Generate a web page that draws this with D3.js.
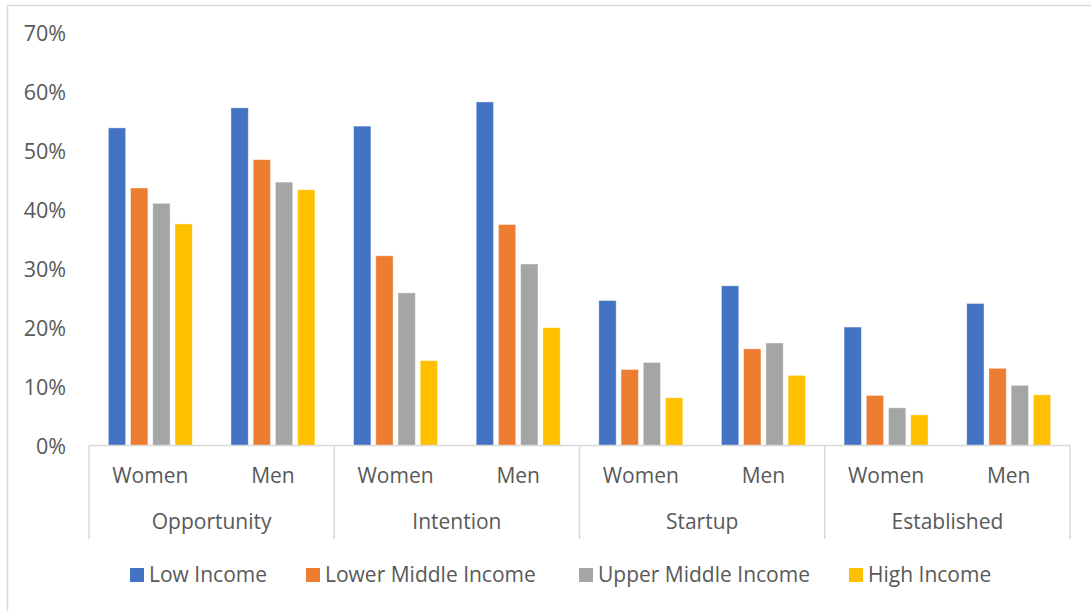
<!DOCTYPE html>
<html><head><meta charset="utf-8">
<script src="https://cdn.jsdelivr.net/npm/d3@7"></script>
<style>body{margin:0;background:#fff}svg{display:block}text{font-family:"Open Sans","Noto Sans",sans-serif;fill:#595959}</style>
</head><body>
<svg id="c" width="1091" height="611"></svg>
<script>
const groups = ["Opportunity","Intention","Startup","Established"];
const genders = ["Women","Men"];
const series = ["Low Income","Lower Middle Income","Upper Middle Income","High Income"];
const colors = ["#4472C4","#ED7D31","#A5A5A5","#FFC000"];
const lowIncome         = [53.9,57.3,54.2,58.3,24.6,27.1,20.1,24.1];
const lowerMiddleIncome = [43.7,48.5,32.2,37.5,12.9,16.4, 8.5,13.1];
const upperMiddleIncome = [41.1,44.7,25.9,30.8,14.1,17.4, 6.4,10.2];
const highIncome        = [37.6,43.4,14.4,20.0, 8.1,11.9, 5.2, 8.6];
const yTicks = [0,10,20,30,40,50,60,70];

const values = [lowIncome,lowerMiddleIncome,upperMiddleIncome,highIncome];
const cats = [];
groups.forEach(g=>genders.forEach(s=>cats.push(g+"|"+s)));

const svg = d3.select("#c");
svg.append("rect").attr("x",7.5).attr("y",5.5).attr("width",1200).attr("height",800)
  .attr("fill","none").attr("stroke","#d9d9d9").attr("stroke-width",1.5);

const L=89,R=1070,T=33,B=445.5;
const FS="21px";
const x0 = d3.scaleBand().domain(cats).range([L,R]);
const x1 = d3.scaleBand().domain(series).range([0,x0.bandwidth()]).paddingInner(0.22).paddingOuter(0.87);
const y = d3.scaleLinear().domain([0,70]).range([B,T]);

// y axis labels
const ya = svg.append("g").attr("transform",`translate(${L},0)`)
  .call(d3.axisLeft(y).tickValues(yTicks).tickFormat(d=>d+"%").tickSize(0).tickPadding(23));
ya.select(".domain").remove();
ya.selectAll("text").style("font-size","21.5px").attr("fill","#595959").attr("dy","0.35em");

// bars
const cg = svg.append("g");
cats.forEach((c,ci)=>{
  series.forEach((s,si)=>{
    cg.append("rect")
      .attr("x",x0(c)+x1(s)).attr("width",x1.bandwidth())
      .attr("y",y(values[si][ci])).attr("height",B-y(values[si][ci]))
      .attr("fill",colors[si]).attr("stroke","#fff").attr("stroke-opacity",0.5).attr("stroke-width",0.8);
  });
});

// x axis
svg.append("line").attr("x1",L).attr("x2",R).attr("y1",B).attr("y2",B)
  .attr("stroke","#d9d9d9").attr("stroke-width",1.5);
const gScale = d3.scaleBand().domain(groups).range([L,R]);
const bounds = groups.map(g=>gScale(g)).concat([R]);
bounds.forEach(bx=>{
  svg.append("line").attr("x1",bx).attr("x2",bx).attr("y1",B).attr("y2",539)
    .attr("stroke","#d9d9d9").attr("stroke-width",1.5);
});
cats.forEach(c=>{
  svg.append("text").attr("x",x0(c)+x0.bandwidth()/2).attr("y",476).attr("dy","0.35em")
    .attr("text-anchor","middle").style("font-size",FS).text(c.split("|")[1]);
});
groups.forEach(g=>{
  svg.append("text").attr("x",gScale(g)+gScale.bandwidth()/2).attr("y",522).attr("dy","0.35em")
    .attr("text-anchor","middle").style("font-size",FS).text(g);
});

// legend
const legX = [130,306,579,849];
const lg = svg.append("g");
series.forEach((s,i)=>{
  lg.append("rect").attr("x",legX[i]).attr("y",568).attr("width",14).attr("height",14).attr("fill",colors[i]);
  lg.append("text").attr("x",legX[i]+19).attr("y",575).attr("dy","0.35em").style("font-size",FS).text(s);
});
</script>
</body></html>
